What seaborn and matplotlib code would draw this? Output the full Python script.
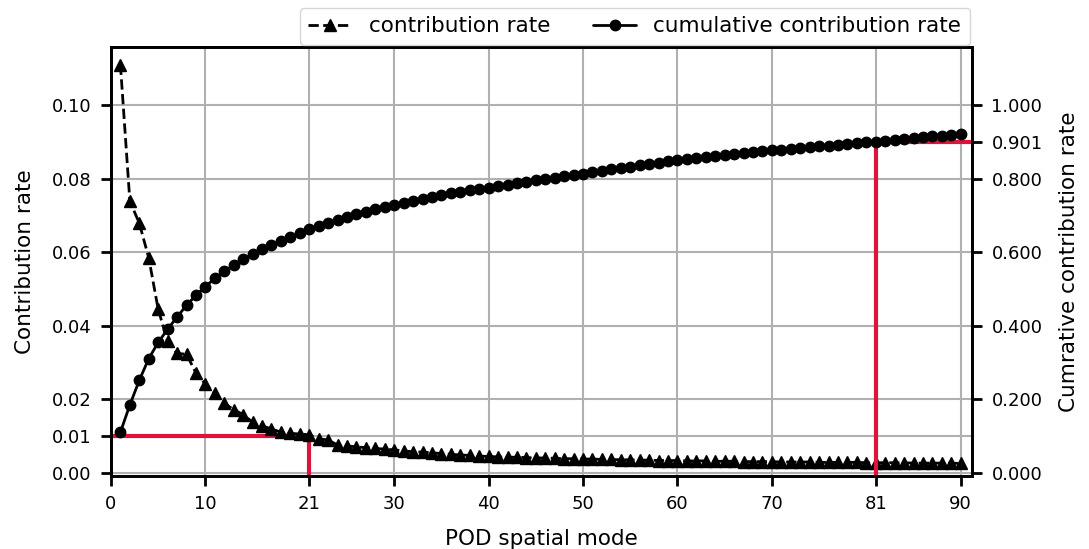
import numpy as np
import pandas as pd
import matplotlib
matplotlib.use('Agg')
import matplotlib.pyplot as plt
import seaborn as sns

# POD modes 1..90
modes = list(range(1, 91))

contribution = [
    0.1110, 0.0739, 0.0679, 0.0585, 0.0445, 0.0358, 0.0325, 0.0323, 0.0272, 0.0242,
    0.0217, 0.0190, 0.0172, 0.0159, 0.0138, 0.0128, 0.0120, 0.0111, 0.0108, 0.0106,
    0.0104, 0.0093, 0.0090, 0.0076, 0.0074, 0.0071, 0.0069, 0.0067, 0.0065, 0.0063,
    0.0060, 0.0058, 0.0057, 0.0055, 0.0053, 0.0051, 0.0049, 0.0048, 0.0046, 0.0045,
    0.0044, 0.0043, 0.0043, 0.0042, 0.0041, 0.0041, 0.0040, 0.0039, 0.0039, 0.0038,
    0.0038, 0.0037, 0.0037, 0.0036, 0.0036, 0.0035, 0.0035, 0.0034, 0.0034, 0.0034,
    0.0033, 0.0033, 0.0033, 0.0032, 0.0032, 0.0032, 0.0031, 0.0031, 0.0031, 0.0031,
    0.0030, 0.0030, 0.0030, 0.0030, 0.0029, 0.0029, 0.0029, 0.0029, 0.0029, 0.0028,
    0.0028, 0.0028, 0.0028, 0.0028, 0.0027, 0.0027, 0.0027, 0.0027, 0.0027, 0.0026,
]

cumulative = [
    0.111, 0.185, 0.252, 0.311, 0.355, 0.391, 0.424, 0.456, 0.483, 0.507,
    0.529, 0.548, 0.565, 0.581, 0.595, 0.608, 0.620, 0.631, 0.642, 0.652,
    0.662, 0.671, 0.680, 0.688, 0.696, 0.703, 0.710, 0.717, 0.723, 0.729,
    0.735, 0.740, 0.745, 0.750, 0.755, 0.760, 0.764, 0.768, 0.772, 0.776,
    0.780, 0.784, 0.788, 0.792, 0.796, 0.799, 0.803, 0.807, 0.810, 0.814,
    0.818, 0.822, 0.826, 0.829, 0.833, 0.836, 0.840, 0.843, 0.847, 0.850,
    0.853, 0.856, 0.858, 0.861, 0.864, 0.867, 0.869, 0.872, 0.875, 0.877,
    0.879, 0.881, 0.884, 0.886, 0.888, 0.890, 0.892, 0.894, 0.896, 0.899,
    0.901, 0.903, 0.906, 0.908, 0.911, 0.913, 0.915, 0.917, 0.919, 0.922,
]

# thresholds marked in red: contribution < 0.01 at mode 21, cumulative 0.901 at mode 81
threshold_modes = [21, 81]
threshold_values = [0.01, 0.901]

x_ticks = [0, 10, 21, 30, 40, 50, 60, 70, 81, 90]
left_ticks = [0.00, 0.01, 0.02, 0.04, 0.06, 0.08, 0.10]
right_ticks = [0.0, 0.2, 0.4, 0.6, 0.8, 0.901, 1.0]

df = pd.DataFrame({'mode': modes, 'contribution': contribution, 'cumulative': cumulative})

sns.set_style('ticks', {'axes.edgecolor': 'black', 'xtick.color': 'black', 'ytick.color': 'black',
                        'text.color': 'black', 'axes.labelcolor': 'black'})
plt.rcParams['font.family'] = ['DejaVu Sans']

xlim = (0, 91.2)
ylim = (-0.0008, 0.1158)
ylim2 = (ylim[0] * 10, ylim[1] * 10)

fig, ax = plt.subplots(figsize=(10.89, 5.49), dpi=100)
fig.subplots_adjust(left=0.1019, right=0.8926, bottom=0.133, top=0.9144)
ax2 = ax.twinx()

red = '#dc143c'
# red guide for contribution rate threshold
ax.plot([xlim[0], threshold_modes[0], threshold_modes[0]],
        [threshold_values[0], threshold_values[0], ylim[0]],
        color=red, lw=3, zorder=2, solid_joinstyle='miter')
# red guide for cumulative threshold
ax2.plot([threshold_modes[1], threshold_modes[1], xlim[1]],
         [ylim2[0], threshold_values[1], threshold_values[1]],
         color=red, lw=3, zorder=2, solid_joinstyle='miter')

sns.lineplot(data=df, x='mode', y='contribution', ax=ax, color='black', marker='^',
             markersize=8.5, markeredgecolor='black', markeredgewidth=1,
             linestyle='--', linewidth=2, label='contribution rate', zorder=3)
sns.lineplot(data=df, x='mode', y='cumulative', ax=ax2, color='black', marker='o',
             markersize=7.5, markeredgecolor='black', markeredgewidth=1,
             linewidth=2, label='cumulative contribution rate', zorder=3)

ax.set_xlim(*xlim)
ax.set_ylim(*ylim)
ax2.set_ylim(*ylim2)

ax.set_xticks(x_ticks)
ax.set_yticks(left_ticks)
ax.set_yticklabels([f'{v:.2f}' for v in left_ticks])
ax2.set_yticks(right_ticks)
ax2.set_yticklabels([f'{v:.3f}' for v in right_ticks])

ax.grid(True, color='#b0b0b0', linewidth=1.5)
ax2.grid(False)

ax.set_xlabel('POD spatial mode', fontsize=15.5, labelpad=11)
ax.set_ylabel('Contribution rate', fontsize=15.5, labelpad=12)
ax2.set_ylabel('Cumrative contribution rate', fontsize=15.5, labelpad=12)

for a in (ax, ax2):
    a.tick_params(axis='both', labelsize=13, length=7, width=2, pad=7)
    for s in a.spines.values():
        s.set_linewidth(2)

# one legend for both axes, above the plot
h1, l1 = ax.get_legend_handles_labels()
h2, l2 = ax2.get_legend_handles_labels()
if ax.get_legend() is not None:
    ax.get_legend().remove()
if ax2.get_legend() is not None:
    ax2.get_legend().remove()
ax2.legend(h1 + h2, l1 + l2, loc='lower right', bbox_to_anchor=(1.0, 1.0), ncol=2,
           fontsize=15.5, borderaxespad=0.1, frameon=True)

plt.savefig('out.png', dpi=100)
